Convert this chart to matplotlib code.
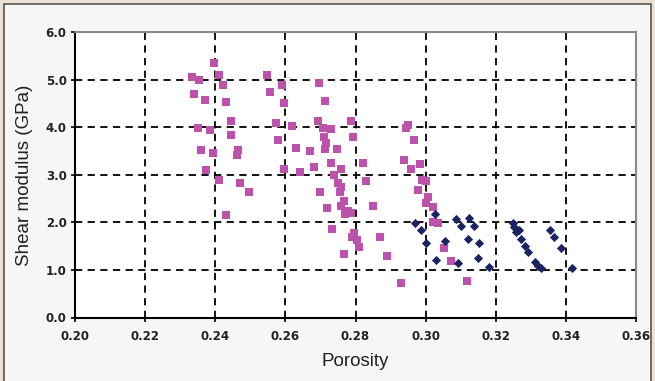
import matplotlib
matplotlib.use("Agg")
import matplotlib.pyplot as plt
from matplotlib.patches import Rectangle

# Pink squares (porosity, shear modulus GPa)
pink_phi = [0.2333, 0.2355, 0.2340, 0.2370, 0.2397, 0.2410, 0.2423, 0.2431, 0.2351, 0.2386,
            0.2446, 0.2446, 0.2360, 0.2395, 0.2466, 0.2463, 0.2375, 0.2410, 0.2470, 0.2497,
            0.2431,
            0.2549, 0.2557, 0.2589, 0.2597, 0.2574, 0.2620, 0.2580, 0.2629, 0.2669, 0.2597,
            0.2643, 0.2697, 0.2714, 0.2694, 0.2706, 0.2731, 0.2786, 0.2794, 0.2709, 0.2717,
            0.2714, 0.2746, 0.2683, 0.2729, 0.2760, 0.2820, 0.2740, 0.2831, 0.2751, 0.2760,
            0.2757, 0.2700, 0.2766, 0.2760, 0.2720, 0.2780, 0.2786, 0.2769, 0.2849, 0.2734,
            0.2797, 0.2791, 0.2803, 0.2809, 0.2871, 0.2766, 0.2891, 0.2929,
            0.2949, 0.2943, 0.2966, 0.2937, 0.2957, 0.2983, 0.2989, 0.3000, 0.2977, 0.3006,
            0.3000, 0.3020, 0.3020, 0.3034, 0.3051, 0.3071, 0.3117]
pink_g = [5.05, 4.99, 4.69, 4.58, 5.34, 5.09, 4.88, 4.53, 3.98, 3.95,
          4.12, 3.83, 3.52, 3.45, 3.52, 3.42, 3.10, 2.90, 2.83, 2.64,
          2.15,
          5.09, 4.73, 4.88, 4.50, 4.08, 4.02, 3.72, 3.57, 3.49, 3.12,
          3.06, 4.93, 4.55, 4.12, 3.98, 3.96, 4.12, 3.79, 3.79, 3.66,
          3.54, 3.54, 3.16, 3.24, 3.12, 3.24, 3.00, 2.86, 2.82, 2.74,
          2.64, 2.64, 2.45, 2.34, 2.30, 2.23, 2.19, 2.17, 2.34, 1.86,
          1.77, 1.69, 1.63, 1.48, 1.69, 1.33, 1.29, 0.72,
          4.04, 3.98, 3.72, 3.30, 3.13, 3.22, 2.90, 2.87, 2.68, 2.53,
          2.40, 2.32, 2.00, 1.98, 1.46, 1.19, 0.77]

# Navy diamonds
navy_phi = [0.2969, 0.2986, 0.3000, 0.3026, 0.3031, 0.3054, 0.3086, 0.3100, 0.3091, 0.3120,
            0.3123, 0.3137, 0.3151, 0.3149, 0.3180, 0.3249, 0.3251, 0.3257, 0.3266, 0.3271,
            0.3283, 0.3291, 0.3311, 0.3320, 0.3329, 0.3354, 0.3366, 0.3386, 0.3417]
navy_g = [1.98, 1.84, 1.56, 2.17, 1.21, 1.60, 2.07, 1.92, 1.14, 1.65,
          2.09, 1.92, 1.56, 1.25, 1.06, 1.98, 1.90, 1.80, 1.84, 1.65,
          1.50, 1.38, 1.17, 1.08, 1.04, 1.84, 1.69, 1.46, 1.04]

x_ticks = [0.20, 0.22, 0.24, 0.26, 0.28, 0.30, 0.32, 0.34, 0.36]
y_ticks = [0.0, 1.0, 2.0, 3.0, 4.0, 5.0, 6.0]

fig = plt.figure(figsize=(6.55, 3.81), dpi=100)
fig.patch.set_facecolor('#ede1d7')
frame = Rectangle((4/655, -0.01), 647/655, 1 - 4/381 + 0.01,
                  transform=fig.transFigure, facecolor='#f6f6f4',
                  edgecolor='#555555', linewidth=1.2, zorder=-10)
fig.add_artist(frame)

ax = fig.add_axes([75/655, 1 - 317.5/381, (636 - 75)/655, (317.5 - 32)/381])
ax.set_zorder(1)
ax.set_facecolor('white')

ax.scatter(pink_phi, pink_g, marker='s', s=26, color='#bd52ad', linewidths=0, zorder=3)
ax.scatter(navy_phi, navy_g, marker='D', s=22, color='#1c2262', linewidths=0, zorder=4)

ax.set_xlim(0.20, 0.36)
ax.set_ylim(0.0, 6.0)
ax.set_xticks(x_ticks)
ax.set_yticks(y_ticks)
ax.set_xticklabels([f"{v:.2f}" for v in x_ticks])
ax.set_yticklabels([f"{v:.1f}" for v in y_ticks])

for v in x_ticks[1:-1]:
    ax.axvline(v, color='black', linestyle=(0, (4, 3)), linewidth=1.3, zorder=2)
for v in y_ticks[1:-1]:
    ax.axhline(v, color='black', linestyle=(0, (4, 3)), linewidth=1.3, zorder=2)

ax.spines['left'].set_color('black')
ax.spines['bottom'].set_color('black')
ax.spines['left'].set_linewidth(1.5)
ax.spines['bottom'].set_linewidth(1.5)
ax.spines['top'].set_color('#8a8a8a')
ax.spines['right'].set_color('#8a8a8a')
ax.spines['top'].set_linewidth(1.5)
ax.spines['right'].set_linewidth(1.5)

ax.tick_params(axis='both', direction='out', length=3, width=1.2, color='black',
               labelsize=8.5, labelcolor='#222222', pad=3)
for lab in ax.get_xticklabels() + ax.get_yticklabels():
    lab.set_fontweight('bold')
    lab.set_family('DejaVu Sans')
ax.tick_params(axis='x', pad=6)

fig.text(355/655, 1 - 362/381, 'Porosity', ha='center', va='center',
         fontsize=13.5, family='Liberation Sans', color='#222222')
fig.text(25/655, 1 - 175/381, 'Shear modulus (GPa)', ha='center', va='center',
         rotation=90, fontsize=13.5, family='Liberation Sans', color='#222222')

fig.savefig('out.png', dpi=100, facecolor=fig.get_facecolor())
